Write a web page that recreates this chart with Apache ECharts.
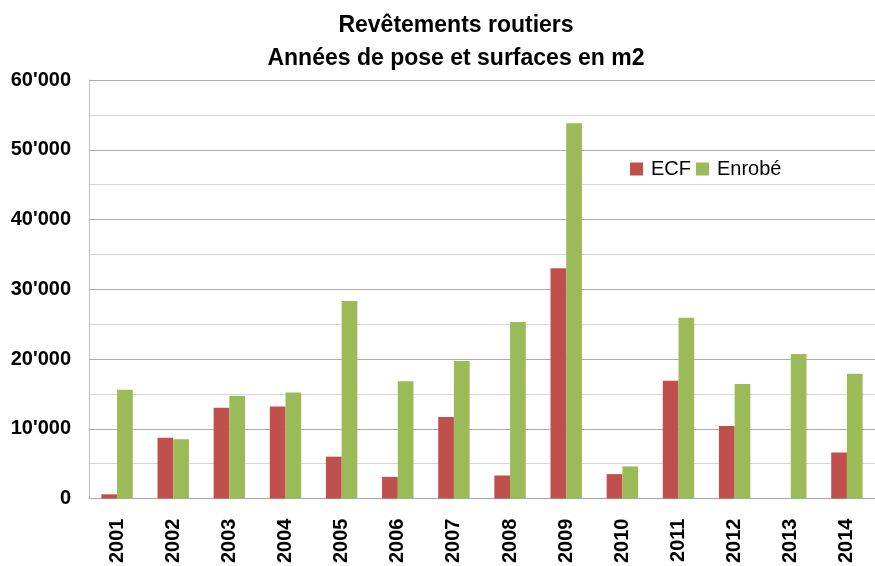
<!DOCTYPE html>
<html>
<head>
<meta charset="utf-8">
<script src="https://cdn.jsdelivr.net/npm/echarts@6/dist/echarts.min.js"></script>
<style>
    html, body { margin: 0; padding: 0; background: #fff; }
    #chart { width: 875px; height: 566px; }
</style>
</head>
<body>
<div id="chart"></div>
<script>
// années
var years = ['2001', '2002', '2003', '2004', '2005', '2006', '2007', '2008', '2009', '2010', '2011', '2012', '2013', '2014'];
// surfaces en m2
var ecf = [600, 8700, 13000, 13200, 6000, 3100, 11700, 3300, 33000, 3500, 16900, 10400, 0, 6600];
var enrobe = [15600, 8500, 14700, 15200, 28300, 16800, 19700, 25300, 53800, 4600, 25900, 16400, 20700, 17900];
var yTicks = [0, 10000, 20000, 30000, 40000, 50000, 60000];

function fmt(v) {
    if (v == 0) return '0';
    var s = String(v);
    return s.slice(0, s.length - 3) + "'" + s.slice(-3);
}

var myChart = echarts.init(document.getElementById('chart'));

var option = {
    backgroundColor: '#fff',
    animation: false,
    title: {
        text: 'Revêtements routiers\nAnnées de pose et surfaces en m2',
        left: 451,
        top: 4,
        textAlign: 'center',
        textStyle: {
            fontFamily: 'Liberation Sans',
            fontWeight: 'bold',
            fontSize: 23,
            lineHeight: 33,
            color: '#000'
        }
    },
    legend: {
        data: ['ECF', 'Enrobé'],
        left: 625,
        top: 154,
        itemWidth: 13,
        itemHeight: 13,
        itemGap: 5,
        icon: 'rect',
        textStyle: {
            fontFamily: 'Liberation Sans',
            fontSize: 20,
            color: '#000',
            padding: [0, 0, 0, 3]
        }
    },
    grid: {
        left: 89,
        right: -9,
        top: 80,
        bottom: 63
    },
    xAxis: {
        type: 'category',
        data: years,
        axisTick: { show: false },
        axisLine: { lineStyle: { color: '#a6a6a6', width: 1 } },
        axisLabel: {
            rotate: 90,
            margin: 20,
            fontFamily: 'Liberation Sans',
            fontWeight: 'bold',
            fontSize: 20,
            color: '#000'
        }
    },
    yAxis: {
        type: 'value',
        min: yTicks[0],
        max: yTicks[yTicks.length - 1],
        interval: 10000,
        axisLine: { show: true, lineStyle: { color: '#bfbfbf' } },
        axisTick: { show: false },
        splitLine: { lineStyle: { color: '#acacac' } },
        minorTick: { show: false, splitNumber: 2 },
        minorSplitLine: { show: true, lineStyle: { color: '#d6d6d6' } },
        axisLabel: {
            margin: 18,
            fontFamily: 'Liberation Sans',
            fontWeight: 'bold',
            fontSize: 20,
            color: '#000',
            formatter: fmt
        }
    },
    series: [
        {
            name: 'ECF',
            type: 'bar',
            data: ecf,
            barGap: '0%',
            barCategoryGap: '44%',
            itemStyle: { color: '#c0504d' }
        },
        {
            name: 'Enrobé',
            type: 'bar',
            data: enrobe,
            barGap: '0%',
            barCategoryGap: '44%',
            itemStyle: { color: '#9bbb59' }
        }
    ]
};

myChart.setOption(option);
</script>
</body>
</html>
